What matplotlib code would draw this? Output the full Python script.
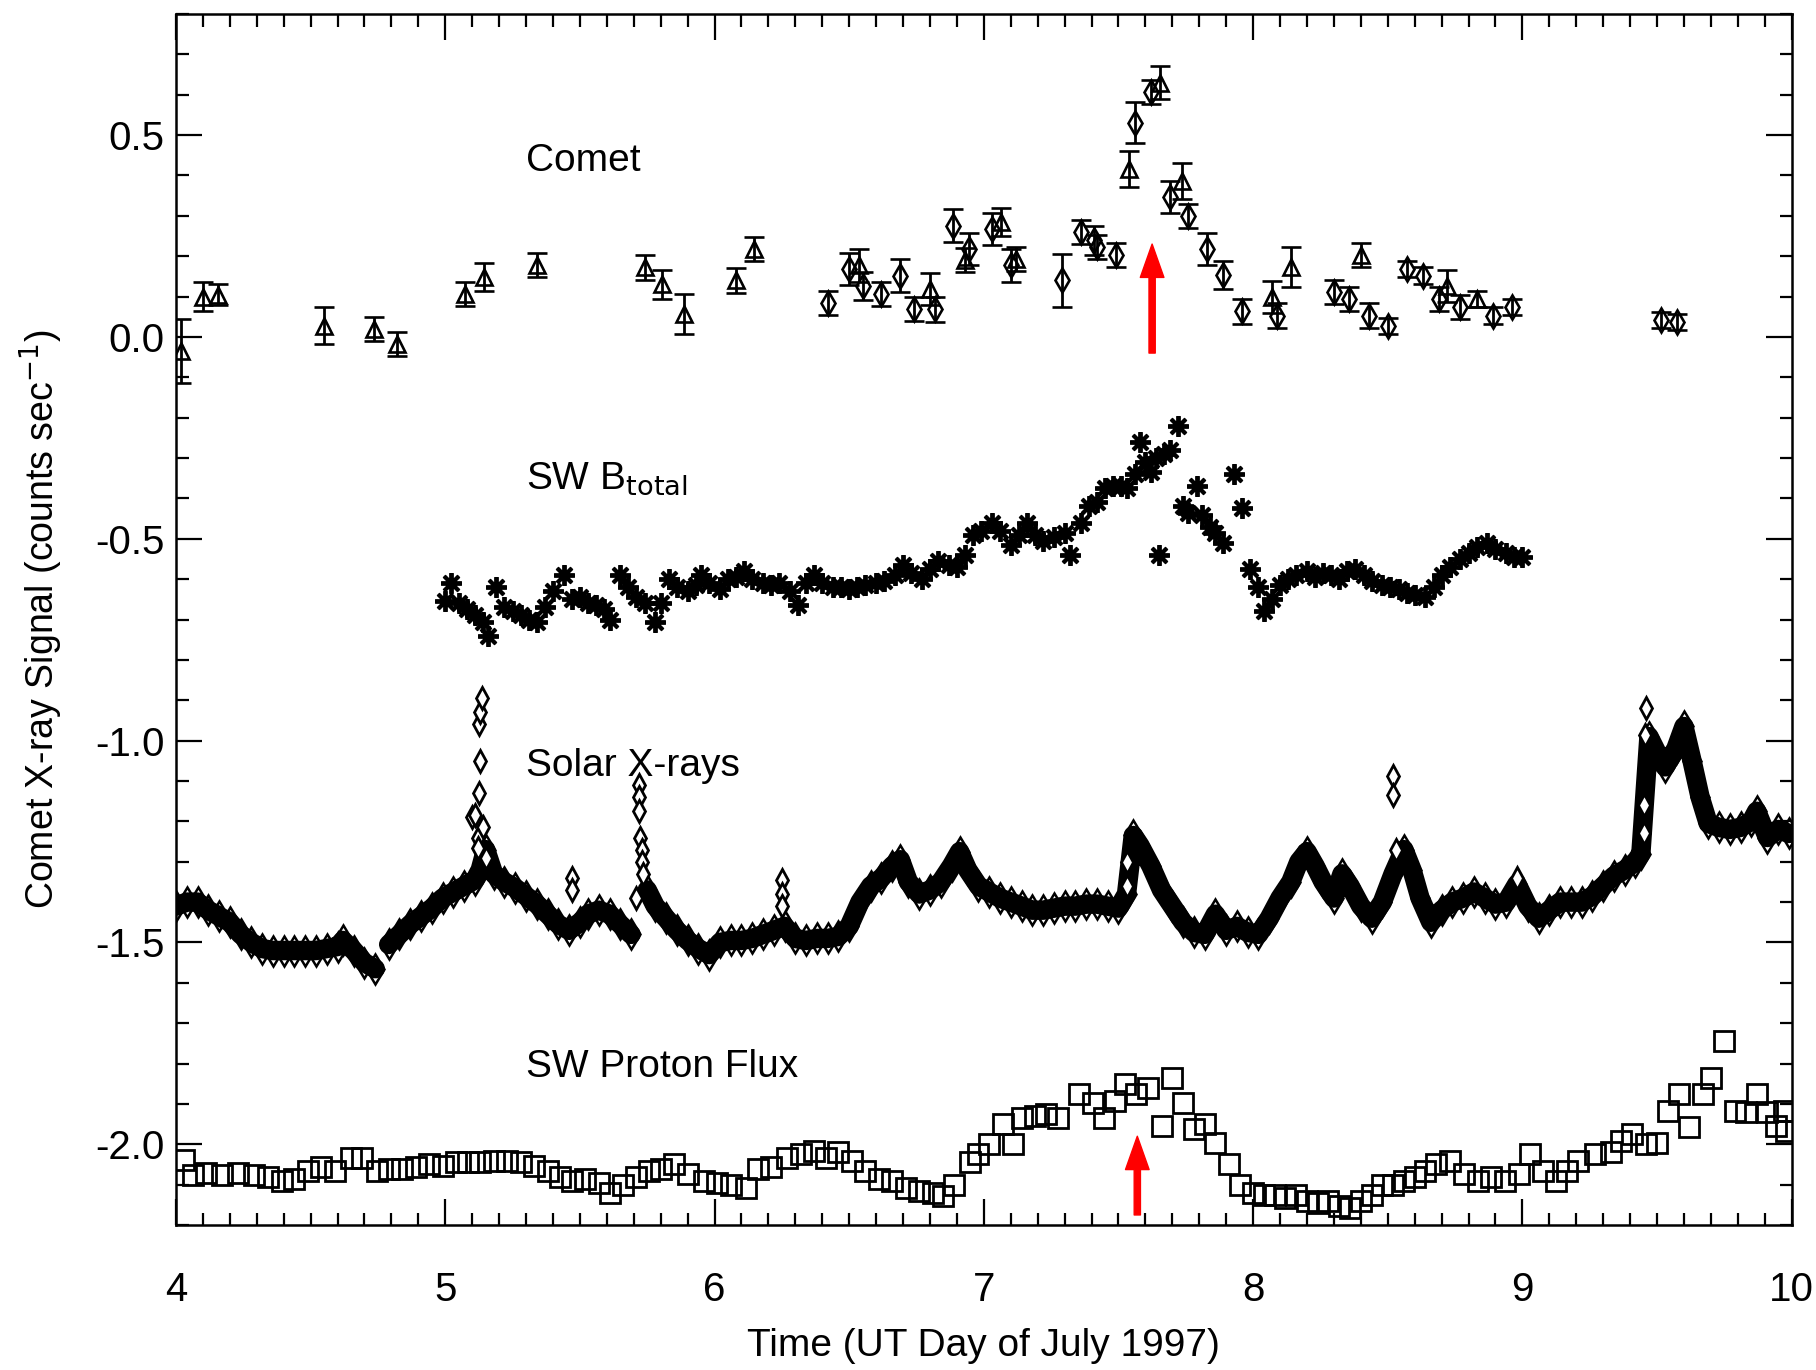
import numpy as np
import matplotlib
matplotlib.use("Agg")
from matplotlib import pyplot as plt
from matplotlib.ticker import MultipleLocator, FormatStrFormatter

plt.rcParams["font.family"] = ["Liberation Sans", "DejaVu Sans"]
plt.rcParams["axes.unicode_minus"] = False

# 彗星 X 射线信号：三角和菱形两组，各带误差
comet_tri_t = [4.02, 4.10, 4.155, 4.55, 4.735, 4.82, 5.075, 5.145, 5.34, 5.74,
               5.805, 5.885, 6.08, 6.145, 6.535, 6.80, 6.93, 7.065, 7.12, 7.54,
               7.655, 7.735, 8.07, 8.14, 8.40, 8.72, 8.83]
comet_tri_v = [-0.035, 0.10, 0.105, 0.028, 0.02, -0.018, 0.106, 0.148, 0.178, 0.172,
               0.13, 0.057, 0.14, 0.218, 0.177, 0.119, 0.19, 0.284, 0.193, 0.416,
               0.630, 0.387, 0.099, 0.173, 0.202, 0.127, 0.094]
comet_tri_err = [0.08, 0.035, 0.025, 0.045, 0.03, 0.03, 0.03, 0.035, 0.03, 0.03,
                 0.035, 0.05, 0.03, 0.03, 0.04, 0.04, 0.03, 0.035, 0.03, 0.045,
                 0.04, 0.045, 0.04, 0.05, 0.03, 0.04, 0.02]

comet_dia_t = [6.42, 6.50, 6.55, 6.62, 6.69, 6.74, 6.82, 6.885, 6.945, 7.03,
               7.10, 7.29, 7.36, 7.41, 7.42, 7.49, 7.56, 7.62, 7.69, 7.76,
               7.83, 7.89, 7.96, 8.09, 8.30, 8.355, 8.43, 8.50, 8.57, 8.63,
               8.69, 8.77, 8.89, 8.96, 9.515, 9.575]
comet_dia_v = [0.084, 0.169, 0.127, 0.107, 0.152, 0.070, 0.068, 0.276, 0.218, 0.268,
               0.177, 0.140, 0.259, 0.239, 0.223, 0.202, 0.531, 0.606, 0.346, 0.300,
               0.218, 0.154, 0.063, 0.053, 0.111, 0.094, 0.053, 0.028, 0.169, 0.152,
               0.094, 0.074, 0.053, 0.074, 0.041, 0.037]
comet_dia_err = [0.03, 0.04, 0.035, 0.03, 0.04, 0.03, 0.03, 0.04, 0.04, 0.04,
                 0.04, 0.065, 0.03, 0.035, 0.03, 0.03, 0.05, 0.03, 0.04, 0.03,
                 0.04, 0.035, 0.03, 0.03, 0.03, 0.03, 0.03, 0.02, 0.02, 0.02,
                 0.03, 0.03, 0.02, 0.02, 0.02, 0.02]

# 太阳风磁场 B_total（平移后的无量纲曲线）
bfield_t = [5.00, 5.02, 5.05, 5.08, 5.11, 5.14, 5.16, 5.19, 5.22, 5.25,
            5.28, 5.31, 5.34, 5.37, 5.40, 5.44, 5.47, 5.50, 5.53, 5.56,
            5.59, 5.61, 5.65, 5.68, 5.71, 5.74, 5.78, 5.80, 5.83, 5.86,
            5.90, 5.93, 5.95, 5.98, 6.02, 6.05, 6.08, 6.11, 6.14, 6.18,
            6.21, 6.24, 6.28, 6.31, 6.34, 6.37, 6.40, 6.44, 6.47, 6.50,
            6.53, 6.56, 6.60, 6.63, 6.67, 6.70, 6.73, 6.77, 6.80, 6.83,
            6.87, 6.90, 6.93, 6.96, 6.99, 7.03, 7.06, 7.10, 7.13, 7.16,
            7.19, 7.22, 7.26, 7.30, 7.32, 7.36, 7.39, 7.42, 7.45, 7.48,
            7.51, 7.53, 7.56, 7.58, 7.60, 7.62, 7.64, 7.65, 7.67, 7.69,
            7.72, 7.74, 7.76, 7.79, 7.81, 7.84, 7.86, 7.89, 7.93, 7.96,
            7.99, 8.02, 8.04, 8.07, 8.10, 8.13, 8.16, 8.20, 8.23, 8.26,
            8.29, 8.32, 8.35, 8.38, 8.41, 8.44, 8.48, 8.51, 8.54, 8.57,
            8.60, 8.64, 8.67, 8.70, 8.73, 8.77, 8.80, 8.83, 8.87, 8.90,
            8.94, 8.97, 9.00]
bfield_v = [-0.655, -0.61, -0.66, -0.675, -0.69, -0.705, -0.74, -0.62, -0.67, -0.68,
            -0.69, -0.70, -0.705, -0.67, -0.63, -0.59, -0.65, -0.645, -0.66, -0.665,
            -0.675, -0.70, -0.59, -0.62, -0.645, -0.66, -0.705, -0.66, -0.60, -0.62,
            -0.63, -0.615, -0.59, -0.61, -0.625, -0.60, -0.595, -0.58, -0.60, -0.61,
            -0.615, -0.61, -0.63, -0.665, -0.61, -0.59, -0.61, -0.62, -0.62, -0.625,
            -0.62, -0.615, -0.61, -0.605, -0.59, -0.565, -0.585, -0.60, -0.575, -0.555,
            -0.565, -0.57, -0.54, -0.49, -0.48, -0.46, -0.48, -0.515, -0.49, -0.46,
            -0.49, -0.505, -0.495, -0.485, -0.54, -0.46, -0.42, -0.41, -0.375, -0.37,
            -0.37, -0.375, -0.34, -0.26, -0.31, -0.335, -0.30, -0.54, -0.29, -0.28,
            -0.22, -0.42, -0.435, -0.37, -0.44, -0.47, -0.485, -0.51, -0.34, -0.425,
            -0.575, -0.62, -0.68, -0.65, -0.615, -0.60, -0.59, -0.58, -0.595, -0.585,
            -0.59, -0.60, -0.58, -0.575, -0.59, -0.605, -0.615, -0.62, -0.625, -0.635,
            -0.64, -0.645, -0.62, -0.59, -0.57, -0.55, -0.535, -0.52, -0.51, -0.525,
            -0.535, -0.545, -0.545]

# 太阳 X 射线（平移后），nan 处为数据缺口
solar_t = [4.00, 4.04, 4.08, 4.12, 4.16, 4.20, 4.24, 4.28, 4.32, 4.36,
           4.40, 4.44, 4.48, 4.52, 4.56, 4.60, 4.62, 4.66, 4.70, 4.74,
           4.765,
           4.79, 4.83, 4.87, 4.91, 4.95, 4.99, 5.03, 5.07, 5.11, 5.13,
           5.15, 5.18, 5.22, 5.26, 5.30, 5.34, 5.38, 5.42, 5.46, 5.50,
           5.53, 5.57, 5.61, 5.65, 5.69,
           5.70,
           5.75, 5.78, 5.82, 5.86, 5.90, 5.94, 5.98, 6.02, 6.06, 6.10,
           6.14, 6.18, 6.22, 6.26, 6.30, 6.34, 6.38, 6.42, 6.46, 6.50,
           6.54, 6.58, 6.62, 6.66, 6.69, 6.72, 6.76, 6.80, 6.84, 6.88,
           6.91, 6.94, 6.98, 7.02, 7.06, 7.10, 7.14, 7.18, 7.22, 7.26,
           7.30, 7.34, 7.38, 7.42, 7.46, 7.50, 7.53, 7.555, 7.58, 7.62,
           7.66, 7.70, 7.74, 7.78, 7.82, 7.86, 7.90, 7.94, 7.98, 8.02,
           8.06, 8.10, 8.14, 8.17, 8.20, 8.23, 8.26, 8.30, 8.33, 8.36,
           8.40, 8.44, 8.48, 8.52, 8.56, 8.59, 8.62, 8.66, 8.70, 8.74,
           8.78, 8.82, 8.86, 8.90, 8.94, 8.98, 9.02, 9.06, 9.10, 9.14,
           9.18, 9.22, 9.26, 9.30, 9.34, 9.38, 9.42, 9.44, 9.47, 9.50,
           9.53, 9.57, 9.60, 9.63, 9.66, 9.69, 9.73, 9.77, 9.81, 9.85,
           9.87, 9.91, 9.95, 9.99]
solar_v = [-1.41, -1.40, -1.40, -1.42, -1.435, -1.45, -1.48, -1.50, -1.515, -1.52,
           -1.52, -1.52, -1.52, -1.52, -1.515, -1.51, -1.495, -1.52, -1.55, -1.565,
           np.nan,
           -1.505, -1.48, -1.455, -1.435, -1.415, -1.39, -1.375, -1.36, -1.345, -1.32,
           -1.27, -1.33, -1.35, -1.365, -1.385, -1.405, -1.43, -1.455, -1.47, -1.45,
           -1.43, -1.42, -1.43, -1.455, -1.48,
           np.nan,
           -1.37, -1.41, -1.44, -1.47, -1.495, -1.515, -1.53, -1.50, -1.495, -1.495,
           -1.49, -1.48, -1.47, -1.46, -1.49, -1.495, -1.49, -1.49, -1.485, -1.46,
           -1.40, -1.36, -1.34, -1.31, -1.295, -1.35, -1.38, -1.37, -1.35, -1.31,
           -1.275, -1.32, -1.36, -1.375, -1.39, -1.40, -1.41, -1.42, -1.42, -1.415,
           -1.41, -1.41, -1.405, -1.405, -1.41, -1.415, -1.38, -1.235, -1.26, -1.31,
           -1.37, -1.41, -1.45, -1.475, -1.48, -1.43, -1.47, -1.46, -1.475, -1.48,
           -1.44, -1.39, -1.35, -1.30, -1.275, -1.31, -1.35, -1.39, -1.33, -1.36,
           -1.41, -1.44, -1.40, -1.33, -1.27, -1.32, -1.39, -1.45, -1.42, -1.40,
           -1.39, -1.375, -1.39, -1.405, -1.40, -1.355, -1.41, -1.44, -1.42, -1.40,
           -1.40, -1.40, -1.385, -1.36, -1.335, -1.32, -1.30, -1.28, -0.99, -1.03,
           -1.065, -1.02, -0.965, -1.05, -1.14, -1.205, -1.215, -1.22, -1.215, -1.20,
           -1.175, -1.24, -1.22, -1.23]

# 耀斑时偏离主带的单独菱形点
flare_t = [5.10, 5.11, 5.12, 5.12, 5.125, 5.13, 5.125, 5.13, 5.135, 5.14, 5.15,
           5.47, 5.47, 5.72, 5.72, 5.72, 5.725, 5.73, 5.73, 5.735, 5.71,
           6.25, 6.25, 6.25, 7.53, 7.53, 8.52, 8.52, 8.53, 8.98,
           9.45, 9.45, 9.46, 9.455]
flare_v = [-1.19, -1.185, -1.24, -1.265, -1.13, -1.05, -0.96, -0.93, -0.895, -1.215, -1.29,
           -1.34, -1.37, -1.11, -1.14, -1.175, -1.24, -1.27, -1.30, -1.33, -1.39,
           -1.345, -1.38, -1.41, -1.30, -1.36, -1.088, -1.134, -1.27, -1.34,
           -1.229, -1.159, -0.92, -0.985]

# 太阳风质子通量（平移后）
proton_t = [4.03, 4.065, 4.11, 4.17, 4.23, 4.29, 4.34, 4.395, 4.44, 4.49,
            4.54, 4.59, 4.65, 4.69, 4.745, 4.79, 4.84, 4.89, 4.94, 4.99,
            5.04, 5.085, 5.13, 5.18, 5.23, 5.28, 5.33, 5.38, 5.425, 5.47,
            5.52, 5.57, 5.61, 5.66, 5.71, 5.755, 5.80, 5.85, 5.90, 5.96,
            6.01, 6.06, 6.115, 6.16, 6.21, 6.27, 6.32, 6.37, 6.415, 6.46,
            6.51, 6.56, 6.61, 6.66, 6.71, 6.76, 6.81, 6.85, 6.89, 6.95,
            6.98, 7.02, 7.07, 7.11, 7.14, 7.19, 7.23, 7.275, 7.355, 7.405,
            7.445, 7.486, 7.525, 7.566, 7.61, 7.66, 7.70, 7.74, 7.78, 7.82,
            7.86, 7.91, 7.95, 8.00, 8.04, 8.08, 8.12, 8.16, 8.20, 8.24,
            8.28, 8.32, 8.36, 8.40, 8.44, 8.48, 8.52, 8.56, 8.60, 8.64,
            8.68, 8.73, 8.785, 8.835, 8.885, 8.935, 8.986, 9.03, 9.076, 9.126,
            9.167, 9.208, 9.268, 9.328, 9.368, 9.408, 9.459, 9.50, 9.54, 9.58,
            9.62, 9.67, 9.70, 9.75, 9.79, 9.83, 9.87, 9.91, 9.94, 9.97,
            9.98]
proton_v = [-2.04, -2.075, -2.07, -2.075, -2.07, -2.075, -2.08, -2.09, -2.087, -2.066,
            -2.057, -2.066, -2.033, -2.033, -2.066, -2.062, -2.062, -2.057, -2.049, -2.053,
            -2.045, -2.045, -2.045, -2.041, -2.041, -2.045, -2.053, -2.066, -2.082, -2.09,
            -2.087, -2.095, -2.12, -2.10, -2.082, -2.066, -2.062, -2.049, -2.074, -2.09,
            -2.095, -2.10, -2.107, -2.062, -2.057, -2.033, -2.025, -2.016, -2.033, -2.02,
            -2.041, -2.066, -2.087, -2.09, -2.107, -2.115, -2.12, -2.128, -2.10, -2.045,
            -2.024, -2.00, -1.95, -2.00, -1.934, -1.93, -1.926, -1.934, -1.876, -1.897,
            -1.934, -1.893, -1.851, -1.876, -1.86, -1.954, -1.835, -1.897, -1.962, -1.95,
            -1.996, -2.05, -2.10, -2.12, -2.125, -2.125, -2.133, -2.125, -2.14, -2.145,
            -2.14, -2.153, -2.157, -2.14, -2.125, -2.10, -2.10, -2.09, -2.082, -2.066,
            -2.049, -2.041, -2.074, -2.09, -2.082, -2.09, -2.074, -2.024, -2.066, -2.09,
            -2.066, -2.041, -2.025, -2.02, -1.991, -1.974, -2.00, -1.996, -1.917, -1.876,
            -1.958, -1.876, -1.835, -1.744, -1.917, -1.92, -1.876, -1.92, -1.954, -1.917,
            -1.967]

# 标注文字和红色箭头
label_names = ["Comet", r"SW B$_{\rm total}$", "Solar X-rays", "SW Proton Flux"]
label_t = [5.30, 5.30, 5.30, 5.30]
label_v = [0.435, -0.352, -1.063, -1.808]

arrow_t = [7.625, 7.57]
arrow_base = [-0.04, -2.175]
arrow_tip = [0.23, -1.98]


fig = plt.figure(figsize=(18.16, 13.70), dpi=100)
ax = fig.add_axes([0.0969, 0.1058, 0.8897, 0.8840])

# 先画密集的太阳 X 射线带，再叠加其它数据
ax.plot(solar_t, solar_v, color="black", lw=14, solid_capstyle="round", zorder=2)
ax.plot(solar_t, solar_v, ls="none", marker="d", ms=15, mfc="none",
        mec="black", mew=1.8, zorder=3)
ax.plot(flare_t, flare_v, ls="none", marker="d", ms=11, mfc="white",
        mec="black", mew=2.0, zorder=3)

ax.plot(bfield_t, bfield_v, ls="none", marker=(8, 2, 0), ms=15, mec="black",
        mew=2.8, zorder=3)

ax.plot(proton_t, proton_v, ls="none", marker="s", ms=14, mfc="none",
        mec="black", mew=2.0, zorder=3)

ax.errorbar(comet_tri_t, comet_tri_v, yerr=comet_tri_err, fmt="^", ms=12,
            mfc="none", mec="black", mew=1.9, ecolor="black", elinewidth=2.0,
            capsize=7, capthick=2.0, zorder=4)
ax.errorbar(comet_dia_t, comet_dia_v, yerr=comet_dia_err, fmt="d", ms=12,
            mfc="none", mec="black", mew=1.9, ecolor="black", elinewidth=2.0,
            capsize=7, capthick=2.0, zorder=4)

for t, y0, y1 in zip(arrow_t, arrow_base, arrow_tip):
    ax.annotate("", xy=(t, y1), xytext=(t, y0),
                arrowprops=dict(facecolor="#ff0000", edgecolor="#ff0000",
                                width=4.5, headwidth=17, headlength=24),
                zorder=5)

for name, t, v in zip(label_names, label_t, label_v):
    ax.text(t, v, name, fontsize=28, va="center", ha="left")

ax.set_xlim(4, 10)
ax.set_ylim(-2.2, 0.8)

ax.xaxis.set_major_locator(MultipleLocator(1))
ax.xaxis.set_minor_locator(MultipleLocator(0.1))
ax.yaxis.set_major_locator(MultipleLocator(0.5))
ax.yaxis.set_minor_locator(MultipleLocator(0.1))
ax.xaxis.set_major_formatter(FormatStrFormatter("%d"))
ax.yaxis.set_major_formatter(FormatStrFormatter("%.1f"))

ax.tick_params(which="both", direction="in", top=True, right=True, width=1.6)
ax.tick_params(which="major", length=19)
ax.tick_params(which="minor", length=9)
ax.tick_params(axis="x", which="major", labelsize=29, pad=33)
ax.tick_params(axis="y", which="major", labelsize=29, pad=8)
for sp in ax.spines.values():
    sp.set_linewidth(1.8)

ax.set_xlabel("Time (UT Day of July 1997)", fontsize=28, labelpad=14)
ax.set_ylabel("Comet X-ray Signal (counts sec$^{-1}$)", fontsize=27, labelpad=22)

fig.savefig("out.png", dpi=100)
